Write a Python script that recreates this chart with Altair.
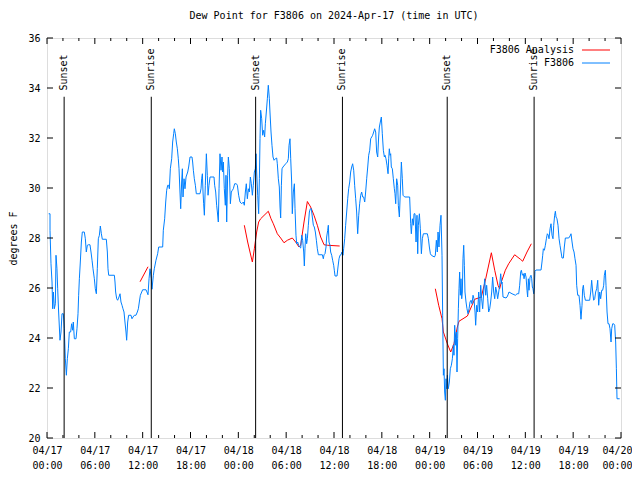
import altair as alt
import pandas as pd

# ---------------- data (hours since 2024-04-17 00:00 UTC, dew point in F) ----------------
blue_part1 = [(0.21,28.97),(0.38,28.97),(0.38,28.31),(0.50,26.97),(0.63,26.24),(0.71,25.17),(0.80,25.84),(0.92,25.17),
 (1.05,25.37),(1.13,27.31),(1.25,26.77),(1.34,25.97),(1.46,25.04),(1.63,23.91),(1.76,24.24),(1.88,24.97),(2.05,24.97),
 (2.17,24.37),(2.30,23.17),(2.43,22.51),(2.55,23.17),(2.68,23.57),(2.80,24.24),(2.97,24.24),(3.09,24.57),(3.22,24.31),
 (3.30,24.64),(3.43,23.97),(3.64,23.97),(3.76,24.37),(3.89,24.97),(3.97,25.71),(4.06,26.37),(4.18,27.04),(4.31,27.84),
 (4.43,28.24),(4.68,28.24),(4.81,27.97),(4.93,27.44),(5.06,27.71),(5.19,27.73),(5.39,27.73),(5.52,27.44),(5.65,27.11),
 (5.77,26.77),(5.94,26.37),(6.06,25.97),(6.19,25.77),(6.31,26.77),(6.44,27.97),(6.57,28.11),(6.69,28.48),(6.82,28.17),
 (6.94,27.95),(7.44,27.95),(7.57,27.44),(7.65,26.77),(7.74,26.51),(8.45,26.51),(8.53,26.24),(8.61,25.84),(8.74,25.57),
 (8.86,25.51),(9.03,25.64),(9.16,25.77),(9.28,25.44),(9.41,25.31),(9.53,25.17),(9.66,25.04),(9.78,24.64),(9.91,24.24),
 (9.99,23.91),(10.12,24.64),(10.24,24.91),(10.54,24.91),(10.66,24.77),(10.79,24.84),(10.96,24.91),(11.16,24.91),
 (11.33,25.04),(11.46,25.17),(11.58,25.44),(11.71,25.71),(11.88,25.84),(12.00,25.93),(12.42,25.93),(12.54,25.84),
 (12.67,25.73),(12.80,26.37),(12.92,26.77),(13.09,26.37),(13.17,25.95),(13.34,26.51),(13.46,26.77),(13.67,27.11),
 (13.88,27.37),(14.01,27.64)]

blue_part2 = [(14.18,27.64),(14.51,27.64),(14.59,28.31),(14.76,28.77),(14.89,29.44),(15.01,29.91),(15.14,30.11),
 (15.26,30.11),(15.35,29.97),(15.47,30.77),(15.64,31.17),(15.76,31.84),(15.89,32.17),(15.97,32.37),(16.10,32.17),
 (16.22,31.84),(16.35,31.57),(16.47,31.17),(16.56,30.77),(16.68,29.84),(16.77,29.17),(16.89,30.24),(16.98,30.77),
 (17.06,29.64),(17.19,30.37),(17.31,29.97),(17.44,30.44),(17.65,30.64),(17.77,30.84),(17.94,31.24),(18.19,31.24),
 (18.27,31.04),(18.36,30.71),(18.48,30.37),(18.61,30.11),(18.73,29.77),(19.19,29.77),(19.32,29.97),(19.40,30.37),
 (19.49,30.57),(19.57,29.84),(19.65,29.37),(19.74,28.91),(19.86,30.11),(19.99,31.37),(20.11,30.51),(20.20,29.71),
 (20.32,30.11),(20.45,30.44),(20.95,30.44),(21.03,30.11),(21.16,29.84),(21.28,29.31),(21.37,29.04),(21.49,28.64),
 (21.58,29.97),(21.70,31.37),(21.83,30.71),(21.95,31.24),(22.04,30.64),(22.12,31.04),(22.24,29.97),(22.37,29.31),
 (22.45,30.51),(22.54,28.64),(22.66,30.51),(22.75,31.24),(22.87,30.77),(23.00,29.37),(23.12,29.84),(23.25,29.91),
 (23.37,29.97),(23.54,30.17),(23.75,30.17),(23.88,30.11),(24.04,29.71),(24.21,29.44),(24.42,29.37),(24.63,29.44),
 (24.75,29.31),(24.88,29.84),(25.00,30.17),(25.13,29.57),(25.26,29.97),(25.38,29.84),(25.51,30.44),(25.63,30.17),
 (25.76,29.71),(25.88,30.11),(26.01,30.64),(26.13,30.77),(26.22,31.37),(26.30,30.64),(26.43,29.71),(26.55,28.97),
 (26.64,30.37),(26.72,31.97),(26.80,33.11),(26.93,32.77),(27.05,32.11),(27.18,32.31),(27.30,32.04),(27.39,32.57),
 (27.51,33.04),(27.64,33.57),(27.76,34.11),(27.89,33.57),(27.97,33.04),(28.10,32.24),(28.22,31.71),(28.35,31.24)]

blue_part3 = [(28.48,31.11),(28.64,31.17),(28.81,31.20),(28.89,30.97),(29.02,30.37),(29.14,30.04),(29.23,29.24),
 (29.31,28.80),(29.40,30.11),(29.48,30.77),(29.60,30.84),(29.94,30.97),(30.15,31.04),(30.27,31.17),(30.36,31.71),
 (30.48,31.97),(30.57,31.17),(30.69,30.24),(30.77,28.97),(30.90,29.84),(31.03,30.17),(31.11,29.17),(31.23,28.11),
 (31.32,27.77),(31.44,27.84),(31.57,27.71),(31.69,27.64),(31.82,27.60),(31.95,28.11),(32.07,27.91),(32.20,27.44),
 (32.28,26.88),(32.36,27.57),(32.45,28.17),(32.57,27.77),(32.66,27.97),(32.78,28.51),(32.91,29.04),(33.03,29.17),
 (33.16,29.17),(33.28,28.84),(33.41,28.51),(33.53,28.44),(33.66,28.24),(33.79,27.91),(33.91,27.57),(34.04,27.33),
 (34.54,27.33),(34.66,27.17),(34.75,27.33),(34.87,27.37),(35.00,27.64),(35.08,28.04),(35.21,28.31),(35.29,28.51),
 (35.37,27.84),(35.50,27.71),(35.58,27.44),(35.71,27.31),(35.83,27.11),(35.96,26.91),(36.04,26.71),(36.13,26.48),
 (36.38,26.48),(36.50,26.84),(36.63,27.17),(36.75,27.31),(36.88,27.33),(37.00,27.44),(37.13,27.31),(37.21,27.57),
 (37.34,27.97),(37.46,28.51),(37.59,29.04),(37.72,29.57),(37.84,29.97),(37.97,30.24),(38.09,30.64),(38.22,30.84),
 (38.34,30.97),(38.47,30.71),(38.59,30.11),(38.72,29.57),(38.84,29.04),(38.97,28.17),(39.10,28.91),(39.22,29.37),
 (39.35,29.71),(39.47,29.84),(39.60,29.64),(39.72,29.64),(39.85,29.44),(39.97,29.84),(40.10,30.37),(40.23,30.84),
 (40.35,31.31),(40.48,31.51),(40.60,31.97),(40.73,32.04),(40.85,32.11),(40.98,32.24),(41.10,32.37),(41.23,32.24),
 (41.35,31.44),(41.48,31.24),(41.60,32.04),(41.69,32.44),(41.81,32.64),(41.94,32.84),(42.06,32.17),(42.19,31.51),
 (42.32,31.24),(42.40,31.31),(42.52,31.17),(42.65,30.91)]

blue_part4 = [(42.78,30.57),(42.86,31.17),(42.94,31.57),(43.03,31.31),(43.11,31.37),(43.19,30.84),(43.32,30.77),
 (43.44,30.37),(43.57,29.97),(43.65,29.77),(43.74,29.37),(43.86,30.37),(43.99,30.11),(44.07,29.31),(44.20,28.84),
 (44.32,29.84),(44.45,31.04),(44.57,30.37),(44.66,29.71),(44.87,29.64),(45.49,29.64),(45.62,28.57),(45.70,28.17),
 (45.83,28.77),(45.95,28.51),(46.04,28.97),(46.16,28.97),(46.29,27.84),(46.41,28.91),(46.50,27.37),(46.58,28.51),
 (46.71,28.97),(46.83,28.37),(46.96,27.37),(47.08,27.97),(47.21,28.17),(47.71,28.17),(47.84,27.97),(47.96,27.64),
 (48.09,27.37),(48.21,27.31),(48.59,27.24),(48.71,27.31),(48.84,27.91),(48.96,27.44),(49.05,28.24),(49.17,27.64),
 (49.30,28.51),(49.42,28.91),(49.55,27.31),(49.63,24.91),(49.72,22.51),(49.80,22.77),(49.88,21.84),(49.97,21.51),
 (50.05,22.37),(50.13,21.97),(50.22,22.51),(50.34,21.97),(50.47,22.24),(50.59,22.77),(50.72,22.91),(50.85,23.17),
 (50.97,23.71),(51.05,23.31),(51.14,24.51),(51.26,23.71),(51.35,24.24),(51.43,22.64),(51.51,23.97),(51.60,25.17),
 (51.68,25.97),(51.76,26.64),(51.85,25.71),(51.93,26.37),(52.02,25.57),(52.10,25.84),(52.18,27.17),(52.27,27.71),
 (52.35,26.91),(52.43,25.84),(52.56,25.44),(52.68,25.17),(52.81,24.97),(52.94,25.17),(53.06,25.44),(53.19,25.51),
 (53.31,25.37),(53.44,25.71),(53.56,25.57),(53.69,25.04),(53.77,24.51),(53.90,25.31),(54.02,25.04),(54.15,25.84),
 (54.27,25.04),(54.40,26.11),(54.52,25.57),(54.65,25.17),(54.78,25.84),(54.90,26.37),(55.03,25.71),(55.15,26.11),
 (55.28,25.57),(55.40,25.04),(55.53,25.17),(55.65,25.44),(55.78,25.84),(55.90,26.44),(56.03,25.84),(56.16,25.57),
 (56.28,26.04),(56.41,25.84),(56.53,25.57),(56.66,25.84),(56.78,26.11),(56.91,26.57),(57.03,26.17)]

blue_part5 = [(57.08,26.24),(57.20,25.64),(57.58,25.60),(57.70,25.64),(57.83,25.73),(57.95,25.84),(58.33,25.77),
 (58.75,25.71),(58.96,25.77),(59.17,25.77),(59.29,26.11),(59.42,26.64),(59.50,26.71),(59.63,26.51),(59.75,26.57),
 (59.84,26.37),(59.96,26.60),(60.09,26.44),(60.21,25.91),(60.29,25.64),(60.38,26.37),(60.46,25.91),(60.59,26.44),
 (60.71,26.51),(60.80,26.37),(60.88,26.04),(60.96,25.97),(61.05,25.77),(61.13,26.04),(61.21,26.67),(61.34,26.72),
 (61.97,26.72),(62.09,27.04),(62.18,27.31),(62.26,27.57),(62.39,27.51),(62.51,27.71),(62.64,27.97),(62.76,28.17),
 (62.89,28.11),(62.97,27.97),(63.10,28.37),(63.22,28.57),(63.35,28.11),(63.47,27.97),(63.56,28.51),(63.68,28.91),
 (63.77,29.07),(63.85,28.84),(63.97,28.77),(64.10,28.51),(64.23,27.97),(64.35,27.71),(64.48,27.44),(64.60,27.20),
 (64.77,27.20),(64.89,27.64),(65.02,28.00),(65.44,28.00),(65.61,28.08),(65.73,28.17),(65.86,27.84),(65.98,27.57),
 (66.11,27.44),(66.23,27.17),(66.36,26.91),(66.44,26.11),(66.57,25.71),(66.73,25.71),(66.86,25.31),(66.98,24.75),
 (67.11,25.31),(67.19,25.97),(67.28,26.11),(67.40,25.71),(67.53,25.51),(68.07,25.51),(68.20,25.84),(68.32,26.31),
 (68.45,25.84),(68.57,25.51),(68.70,25.57),(68.82,25.84),(68.95,25.97),(69.08,26.31),(69.20,25.31),(69.33,25.84),
 (69.45,25.57),(69.58,25.91),(69.70,25.91),(69.83,26.11),(69.91,26.51),(70.04,26.71),(70.12,26.11),(70.25,25.04),
 (70.37,24.57),(70.50,24.57),(70.62,24.37),(70.75,23.84),(70.83,24.37),(70.96,24.57),(71.08,24.57),(71.21,24.51),
 (71.33,23.84),(71.42,22.77),(71.50,21.57),(71.83,21.57)]

red_part1 = [(11.67,26.25),(12.67,26.85)]
red_part2 = [(24.75,28.51),(25.17,27.84),(25.46,27.44),(25.76,27.04),(26.01,27.57),(26.30,28.24),(26.55,28.64),
 (26.80,28.77),(27.76,29.07),(28.10,28.77),(28.39,28.57),(28.89,28.17),(29.31,28.00),(29.73,27.81),(30.15,27.91),
 (30.77,28.00),(31.19,27.84),(31.61,27.64),(31.82,27.71),(32.24,28.64),(32.66,29.46),(33.07,29.24),(33.49,28.91),
 (33.91,28.51),(34.33,28.04),(34.75,27.73),(35.17,27.71),(36.71,27.68)]
red_part3 = [(48.71,25.97),(49.13,25.31),(49.55,24.77),(49.72,24.24),(50.22,23.77),(50.64,23.44),(51.05,23.77),
 (51.47,24.44),(51.68,24.67),(52.73,24.88),(53.31,25.31),(53.65,25.55),(54.48,25.64),(55.03,26.37),(55.74,27.41),
 (56.16,26.71),(56.57,26.11),(56.78,25.97),(56.99,26.24),(57.49,26.71),(57.91,26.97),(58.66,27.33),(59.38,27.15),
 (59.67,27.07),(60.21,27.44),(60.75,27.77)]

sun_hours = [2.15, 13.08, 26.17, 37.06, 50.20, 61.10]
sun_labels = ["Sunset", "Sunrise", "Sunset", "Sunrise", "Sunset", "Sunrise"]

major_hours = list(range(0, 73, 6))
minor_hours = [h for h in range(0, 73, 2) if h % 6 != 0]
y_ticks = list(range(20, 37, 2))

series_names = ["F3806 Analysis", "F3806"]
series_colors = ["#ff0000", "#0080ff"]

# ---------------- build tables ----------------
rows = []
k = 0
for seg, pts in [("a1", red_part1), ("a2", red_part2), ("a3", red_part3)]:
    for h, v in pts:
        rows.append({"hour": h, "dew": v, "series": "F3806 Analysis", "seg": seg, "ord": k}); k += 1
for part in [blue_part1, blue_part2, blue_part3, blue_part4, blue_part5]:
    for h, v in part:
        rows.append({"hour": h, "dew": v, "series": "F3806", "seg": "obs", "ord": k}); k += 1
df = pd.DataFrame(rows)
sun_df = pd.DataFrame({"hour": sun_hours, "label": sun_labels})
major_df = pd.DataFrame({"hour": major_hours})
minor_df = pd.DataFrame({"hour": minor_hours})
yt_df = pd.DataFrame({"dew": y_ticks})

W, H = 574, 400
FONT = "DejaVu Sans Mono"
xs = alt.Scale(domain=[0, 72], nice=False, zero=False)
ys = alt.Scale(domain=[20, 36], nice=False, zero=False)

label_expr = ("['04/' + (17 + floor(datum.value / 24)), "
              "(datum.value % 24 < 10 ? '0' : '') + (datum.value % 24) + ':00']")

x_axis = alt.Axis(values=major_hours, labelExpr=label_expr, ticks=False, domain=False, grid=False,
                  title=None, labelFont=FONT, labelFontSize=10, labelColor="black",
                  labelPadding=7, labelLineHeight=15, labelFlush=False, labelOverlap=False,
                  labelOffset={"condition": {"test": "datum.value >= 72", "value": -4}, "value": 0})
y_axis = alt.Axis(values=y_ticks, ticks=False, domain=False, grid=False,
                  title="degrees F", titleFont=FONT, titleFontSize=10, titleFontWeight="normal",
                  titleColor="black", titlePadding=9, labelFont=FONT, labelFontSize=10,
                  labelColor="black", labelPadding=7)

lines = alt.Chart(df).mark_line(strokeWidth=1, interpolate="linear").encode(
    x=alt.X("hour:Q", scale=xs, axis=x_axis),
    y=alt.Y("dew:Q", scale=ys, axis=y_axis),
    color=alt.Color("series:N", scale=alt.Scale(domain=series_names, range=series_colors),
                    legend=alt.Legend(orient="none", legendX=542, legendY=5, title=None,
                                      symbolType="M-2.154,0H2.154", symbolSize=169, symbolStrokeWidth=1,
                                      labelFont=FONT, labelFontSize=10, labelColor="black",
                                      labelAlign="right", labelOffset={"expr": "-29"}, rowPadding=1)),
    detail="seg:N",
    order="ord:Q",
)

sun_rules = alt.Chart(sun_df).mark_rule(color="black", strokeWidth=1).encode(
    x=alt.X("hour:Q", scale=xs, axis=x_axis),
    y=alt.YDatum(20, axis=y_axis),
    y2=alt.Y2Datum(33.65),
)
sun_text = alt.Chart(sun_df).mark_text(angle=270, align="left", baseline="middle", font=FONT,
                                       fontSize=10, color="black").encode(
    x=alt.X("hour:Q", scale=xs, axis=x_axis),
    y=alt.YDatum(33.9, axis=y_axis),
    text="label:N",
)

def xticks(d, L):
    b = alt.Chart(d).mark_rule(color="black", strokeWidth=1).encode(
        x=alt.X("hour:Q", scale=xs, axis=x_axis), y=alt.value(H), y2=alt.value(H - L))
    t = alt.Chart(d).mark_rule(color="black", strokeWidth=1).encode(
        x=alt.X("hour:Q", scale=xs, axis=x_axis), y=alt.value(0), y2=alt.value(L))
    return [b, t]

ytl = alt.Chart(yt_df).mark_rule(color="black", strokeWidth=1).encode(
    y=alt.Y("dew:Q", scale=ys, axis=y_axis), x=alt.value(0), x2=alt.value(6))
ytr = alt.Chart(yt_df).mark_rule(color="black", strokeWidth=1).encode(
    y=alt.Y("dew:Q", scale=ys, axis=y_axis), x=alt.value(W), x2=alt.value(W - 6))

chart = alt.layer(
    lines, *xticks(major_df, 6), *xticks(minor_df, 3), ytl, ytr, sun_rules, sun_text
).properties(
    width=W, height=H,
    title=alt.TitleParams("Dew Point for F3806 on 2024-Apr-17 (time in UTC)", font=FONT, fontSize=10,
                          fontWeight="normal", color="black", anchor="middle", offset=12),
    autosize=alt.AutoSizeParams(type="none"),
    padding={"left": 39, "top": 30, "right": 11, "bottom": 33},
).configure_view(stroke="black", strokeWidth=1).configure(background="white")

chart.save("out.html", embed_options={"renderer": "svg", "actions": False})
